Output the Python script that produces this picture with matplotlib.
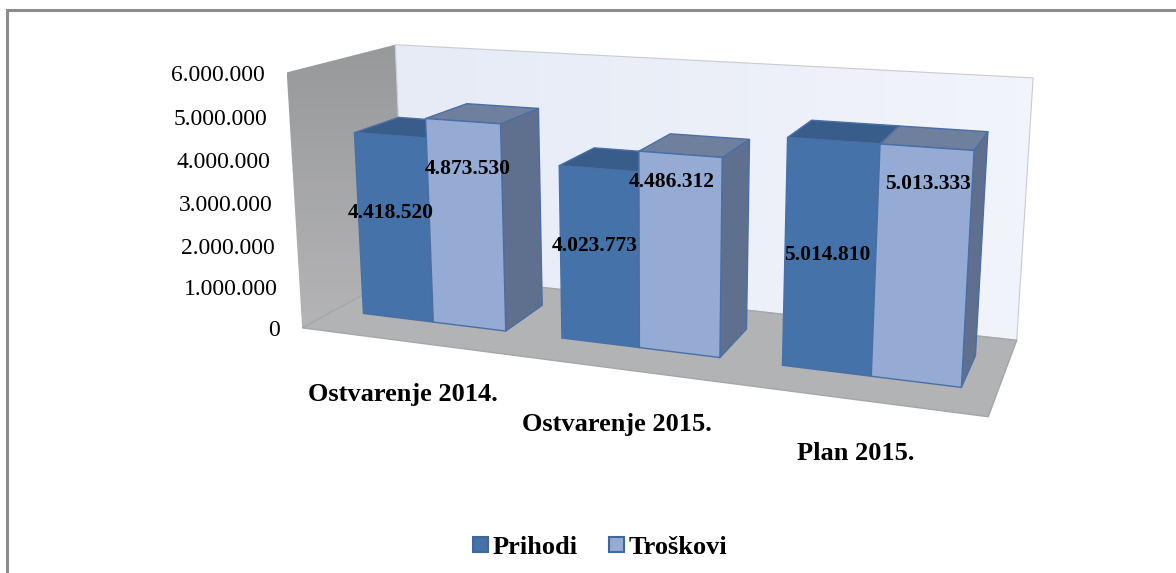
import numpy as np
import matplotlib
matplotlib.use("Agg")
import matplotlib.pyplot as plt
from matplotlib.patches import Polygon, Rectangle

plt.rcParams['font.family'] = ['Liberation Serif', 'DejaVu Serif']

# Data
categories = ['Ostvarenje 2014.', 'Ostvarenje 2015.', 'Plan 2015.']
series_names = ['Prihodi', 'Troškovi']
prihodi = [4418520, 4023773, 5014810]
troskovi = [4873530, 4486312, 5013333]
value_labels_p = ['4.418.520', '4.023.773', '5.014.810']
value_labels_t = ['4.873.530', '4.486.312', '5.013.333']
y_ticks = [0, 1000000, 2000000, 3000000, 4000000, 5000000, 6000000]
y_tick_labels = ['0', '1.000.000', '2.000.000', '3.000.000', '4.000.000', '5.000.000', '6.000.000']

W, H = 1176, 573
Y_MAX = 6000000

# box corners: world (cat, value, depth) -> pixel, used to fit the camera
corner_world = np.array([[0, 0, 0], [3, 0, 0], [3, 0, 1], [0, 0, 1],
                         [0, 1, 1], [3, 1, 1], [0, 1, 0]], float)
corner_px = np.array([[303, 328], [988, 417], [1017, 340], [404, 272],
                      [396, 45], [1033, 78], [286, 72]], float)

rows = []
for (a, b, c), (u, v) in zip(corner_world, corner_px):
    rows.append([a, b, c, 1, 0, 0, 0, 0, -u*a, -u*b, -u*c, -u])
    rows.append([0, 0, 0, 0, a, b, c, 1, -v*a, -v*b, -v*c, -v])
cam = np.linalg.svd(np.array(rows))[2][-1].reshape(3, 4)


def proj(cat, value, depth):
    p = cam @ np.array([cat, value / Y_MAX, depth, 1.0])
    return p[0] / p[2], p[1] / p[2]


fig = plt.figure(figsize=(W / 100, H / 100), dpi=100)
ax = fig.add_axes([0, 0, 1, 1])


def gradient_face(pts, c0, c1, horizontal=False):
    pts = np.array(pts)
    c0 = np.array(matplotlib.colors.to_rgb(c0))
    c1 = np.array(matplotlib.colors.to_rgb(c1))
    t = np.linspace(0, 1, 32)[:, None]
    img = (c0 * (1 - t) + c1 * t)[:, None, :]
    if horizontal:
        img = img.transpose(1, 0, 2)
    x0, y0 = pts.min(axis=0)
    x1, y1 = pts.max(axis=0)
    im = ax.imshow(img, extent=[x0, x1, y1, y0], aspect='auto', interpolation='bilinear', zorder=1)
    im.set_clip_path(Polygon(pts, transform=ax.transData))


# walls and floor
left_wall = [proj(0, 0, 0), proj(0, Y_MAX, 0), proj(0, Y_MAX, 1), proj(0, 0, 1)]
back_wall = [proj(0, 0, 1), proj(0, Y_MAX, 1), proj(3, Y_MAX, 1), proj(3, 0, 1)]
floor = [proj(0, 0, 0), proj(3, 0, 0), proj(3, 0, 1), proj(0, 0, 1)]
gradient_face(left_wall, '#98999b', '#b4b4b6')
gradient_face(back_wall, '#e6ebf6', '#f2f4fb', horizontal=True)
ax.add_patch(Polygon(back_wall, closed=True, fc='none', ec='#c9cbd0', lw=0.8, zorder=1.5))
ax.add_patch(Polygon(floor, closed=True, fc='#b2b3b5', ec='#a5a6a8', lw=1, zorder=2))

# bars
x_edges = [(0.15, 0.51, 0.87), (1.14, 1.50, 1.86), (2.13, 2.50, 2.86)]
z0, z1 = 0.295, 0.72
edge = '#4a6fa5'
colors_p = {'front': '#4572a8', 'top': '#385d8a', 'side': '#33527c'}
colors_t = {'front': '#95abd4', 'top': '#6f7f9e', 'side': '#5f6f8e'}


def bar3d(xa, xb, val, cols, zo):
    front = [proj(xa, 0, z0), proj(xb, 0, z0), proj(xb, val, z0), proj(xa, val, z0)]
    side = [proj(xb, 0, z0), proj(xb, 0, z1), proj(xb, val, z1), proj(xb, val, z0)]
    top = [proj(xa, val, z0), proj(xb, val, z0), proj(xb, val, z1), proj(xa, val, z1)]
    for pts, name in ((side, 'side'), (top, 'top'), (front, 'front')):
        ax.add_patch(Polygon(pts, closed=True, fc=cols[name], ec=edge, lw=1, joinstyle='round', zorder=zo))


for i in range(len(categories)):
    xa, xm, xb = x_edges[i]
    bar3d(xa, xm, prihodi[i], colors_p, 3 + i)
    bar3d(xm, xb, troskovi[i], colors_t, 3.5 + i)

# tick labels follow the left wall
for v, lab in zip(y_ticks, y_tick_labels):
    px, py = proj(0, v, 0)
    ax.text(px - 22, py + 3, lab, ha='right', va='center', fontsize=17, color='black', zorder=10)

# data labels
label_pos_p = [(391, 213), (594.5, 246), (827.5, 255)]
label_pos_t = [(468, 169), (672, 182), (928, 184)]
for lab, (px, py) in zip(value_labels_p + value_labels_t, label_pos_p + label_pos_t):
    ax.text(px, py, lab, ha='center', va='center', fontsize=15.5, fontweight='bold', color='black', zorder=10)

# category labels
cat_pos = [(403, 395), (617, 424), (856, 453)]
for lab, (px, py) in zip(categories, cat_pos):
    ax.text(px, py, lab, ha='center', va='center', fontsize=19, fontweight='bold', color='black', zorder=10)

# legend
legend_x = [(473, 493), (609, 629)]
for name, cols, (sx, tx) in zip(series_names, (colors_p, colors_t), legend_x):
    ax.add_patch(Rectangle((sx, 537), 15, 15, fc=cols['front'], ec='#3f6797', lw=1.5, zorder=10))
    ax.text(tx, 547, name, ha='left', va='center', fontsize=19, fontweight='bold', color='black', zorder=10)

# chart frame, only top and left are in the crop
ax.plot([7.3, 7.3, W], [H, 10.3, 10.3], color='#8c8c8c', lw=2.2, solid_joinstyle='miter', zorder=0.5)

ax.set_xlim(0, W)
ax.set_ylim(H, 0)
ax.axis('off')
fig.savefig('out.png', dpi=100)
